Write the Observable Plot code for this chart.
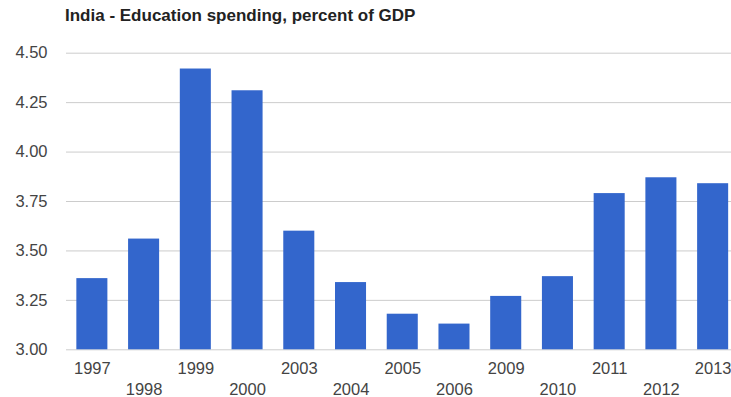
<!DOCTYPE html>
<html>
<head>
<meta charset="utf-8">
<script src="https://cdn.jsdelivr.net/npm/d3@7"></script>
<script src="https://cdn.jsdelivr.net/npm/@observablehq/plot@0.6"></script>
<style>
  html, body { margin: 0; padding: 0; background: #fff; }
  body { width: 731px; height: 397px; overflow: hidden; font-family: Arial, "Liberation Sans", sans-serif; }
  #title { height: 30px; box-sizing: border-box; padding: 6px 0 0 65px; font-size: 17px; line-height: 20px; font-weight: bold; color: #222; white-space: nowrap; }
  svg { overflow: visible; }
</style>
</head>
<body>
<div id="title">India - Education spending, percent of GDP</div>
<div id="chart"></div>
<script>
const years = ["1997","1998","1999","2000","2003","2004","2005","2006","2009","2010","2011","2012","2013"];
const values = [3.36, 3.56, 4.42, 4.31, 3.60, 3.34, 3.18, 3.13, 3.27, 3.37, 3.79, 3.87, 3.84];
const yTicks = [3.00, 3.25, 3.50, 3.75, 4.00, 4.25, 4.50];

const data = years.map((y, i) => ({year: y, value: values[i]}));
const evenYears = years.filter((d, i) => i % 2 === 0);
const oddYears = years.filter((d, i) => i % 2 === 1);

const chart = Plot.plot({
  width: 731,
  height: 367,
  marginTop: 22.7,
  marginBottom: 47.7,
  marginLeft: 66,
  marginRight: 0,
  style: {fontFamily: "Arial, 'Liberation Sans', sans-serif", fontSize: "16.5px", color: "#444", background: "#fff", overflow: "visible"},
  x: {domain: years, range: [66, 738.5], paddingInner: 0.4, paddingOuter: 0.2, align: 0.5, round: false},
  y: {domain: [3, 4.5], ticks: yTicks},
  marks: [
    Plot.ruleY(yTicks, {stroke: "#ccc", strokeWidth: 1}),
    Plot.barY(data, {x: "year", y1: 3, y2: "value", fill: "#3366cc"}),
    Plot.axisY({ticks: yTicks, tickSize: 0, tickPadding: 19, tickFormat: d => d.toFixed(2), fill: "#444", fontSize: 16.5, label: null}),
    Plot.axisX({ticks: evenYears, tickSize: 0, tickPadding: 12, fill: "#444", fontSize: 16.5, label: null}),
    Plot.axisX({ticks: oddYears, tickSize: 0, tickPadding: 33, fill: "#444", fontSize: 16.5, label: null})
  ]
});
document.getElementById("chart").appendChild(chart);
</script>
</body>
</html>
